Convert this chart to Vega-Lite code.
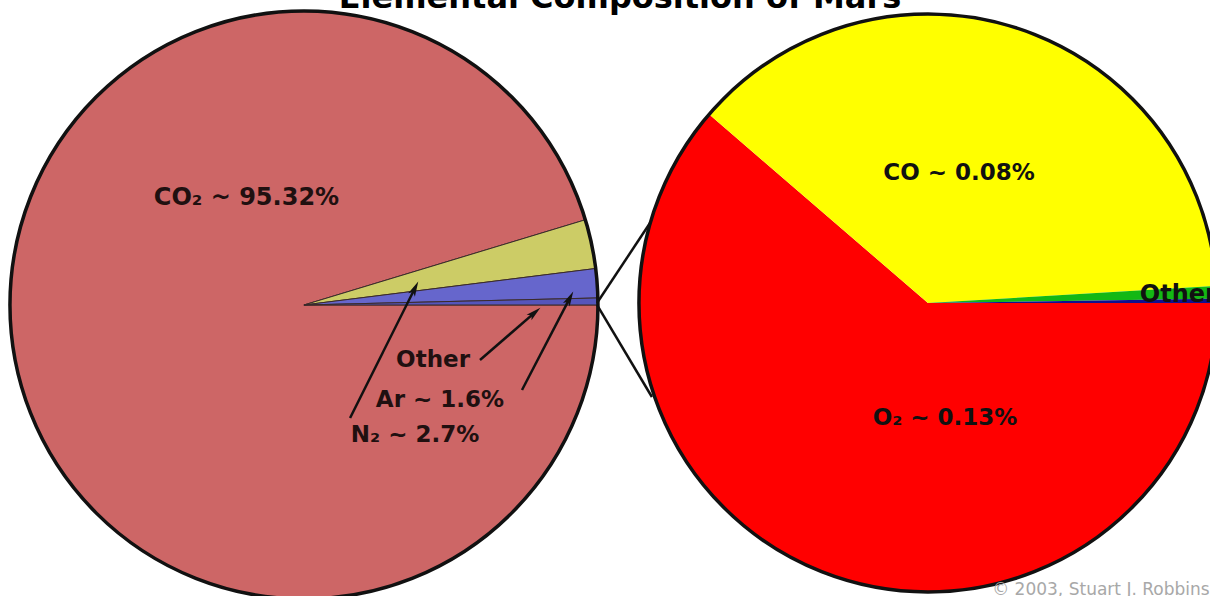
{
  "$schema": "https://vega.github.io/schema/vega-lite/v6.json",
  "width": 1210,
  "height": 596,
  "autosize": {"type": "none"},
  "padding": 0,
  "background": "white",
  "config": {"view": {"stroke": null}},
  "data": {"values": [{}]},
  "datasets": {
    "atmosphere": [
      {"gas": "CO₂", "percent": 95.32},
      {"gas": "N₂", "percent": 2.7},
      {"gas": "Ar", "percent": 1.6},
      {"gas": "Other", "percent": 0.38}
    ],
    "trace": [
      {"gas": "O₂", "percent": 0.13},
      {"gas": "CO", "percent": 0.08},
      {"gas": "Other A", "percent": 0.0015},
      {"gas": "Other B", "percent": 0.0005}
    ]
  },
  "resolve": {"scale": {"theta": "independent", "color": "independent"}},
  "layer": [
    {
      "data": {"name": "atmosphere"},
      "mark": {"type": "arc", "outerRadius": 294, "stroke": "#3a2a2a", "strokeWidth": 1},
      "encoding": {
        "x": {"datum": 25.12, "type": "quantitative", "scale": {"domain": [0, 100], "nice": false, "zero": false}, "axis": null},
        "y": {"datum": 51.17, "type": "quantitative", "scale": {"domain": [0, 100], "nice": false, "zero": false, "reverse": true}, "axis": null},
        "theta": {"field": "percent", "type": "quantitative", "stack": true, "scale": {"range": [1.5708, 7.854]}},
        "order": {"field": "percent", "sort": "descending"},
        "color": {"field": "gas", "type": "nominal", "legend": null,
          "scale": {"domain": ["CO₂", "N₂", "Ar", "Other"], "range": ["#CD6666", "#CCCC66", "#6666CC", "#5555BB"]}}
      }
    },
    {
      "data": {"name": "trace"},
      "mark": {"type": "arc", "outerRadius": 289},
      "encoding": {
        "x": {"datum": 76.69, "type": "quantitative", "scale": {"domain": [0, 100], "nice": false, "zero": false}, "axis": null},
        "y": {"datum": 50.84, "type": "quantitative", "scale": {"domain": [0, 100], "nice": false, "zero": false, "reverse": true}, "axis": null},
        "theta": {"field": "percent", "type": "quantitative", "stack": true, "scale": {"range": [1.5708, 7.854]}},
        "order": {"field": "percent", "sort": "descending"},
        "color": {"field": "gas", "type": "nominal", "legend": null,
          "scale": {"domain": ["O₂", "CO", "Other A", "Other B"], "range": ["#FF0000", "#FFFF00", "#14B814", "#101090"]}}
      }
    },
    {
      "mark": {"type": "arc", "theta": 0, "theta2": 6.2832, "outerRadius": 294, "fillOpacity": 0, "stroke": "#111111", "strokeWidth": 3.5},
      "encoding": {
        "x": {"datum": 25.12, "type": "quantitative", "scale": {"domain": [0, 100], "nice": false, "zero": false}, "axis": null},
        "y": {"datum": 51.17, "type": "quantitative", "scale": {"domain": [0, 100], "nice": false, "zero": false, "reverse": true}, "axis": null}
      }
    },
    {
      "mark": {"type": "arc", "theta": 0, "theta2": 6.2832, "outerRadius": 289, "fillOpacity": 0, "stroke": "#111111", "strokeWidth": 3.5},
      "encoding": {
        "x": {"datum": 76.69, "type": "quantitative", "scale": {"domain": [0, 100], "nice": false, "zero": false}, "axis": null},
        "y": {"datum": 50.84, "type": "quantitative", "scale": {"domain": [0, 100], "nice": false, "zero": false, "reverse": true}, "axis": null}
      }
    },
    {
      "mark": {"type": "rule", "color": "#111111", "strokeWidth": 2.5},
      "encoding": {
        "x": {"datum": 49.34, "type": "quantitative", "scale": {"domain": [0, 100], "nice": false, "zero": false}, "axis": null},
        "y": {"datum": 50.84, "type": "quantitative", "scale": {"domain": [0, 100], "nice": false, "zero": false, "reverse": true}, "axis": null},
        "x2": {"datum": 53.72},
        "y2": {"datum": 37.42}
      }
    },
    {
      "mark": {"type": "rule", "color": "#111111", "strokeWidth": 2.5},
      "encoding": {
        "x": {"datum": 49.34, "type": "quantitative", "scale": {"domain": [0, 100], "nice": false, "zero": false}, "axis": null},
        "y": {"datum": 51.17, "type": "quantitative", "scale": {"domain": [0, 100], "nice": false, "zero": false, "reverse": true}, "axis": null},
        "x2": {"datum": 53.88},
        "y2": {"datum": 66.61}
      }
    },
    {
      "mark": {"type": "rule", "color": "#111111", "strokeWidth": 2.5},
      "encoding": {
        "x": {"datum": 28.93, "type": "quantitative", "scale": {"domain": [0, 100], "nice": false, "zero": false}, "axis": null},
        "y": {"datum": 70.13, "type": "quantitative", "scale": {"domain": [0, 100], "nice": false, "zero": false, "reverse": true}, "axis": null},
        "x2": {"datum": 34.29},
        "y2": {"datum": 48.37}
      }
    },
    {
      "mark": {"type": "rule", "color": "#111111", "strokeWidth": 2.5},
      "encoding": {
        "x": {"datum": 39.67, "type": "quantitative", "scale": {"domain": [0, 100], "nice": false, "zero": false}, "axis": null},
        "y": {"datum": 60.4, "type": "quantitative", "scale": {"domain": [0, 100], "nice": false, "zero": false, "reverse": true}, "axis": null},
        "x2": {"datum": 44.19},
        "y2": {"datum": 52.45}
      }
    },
    {
      "mark": {"type": "rule", "color": "#111111", "strokeWidth": 2.5},
      "encoding": {
        "x": {"datum": 43.14, "type": "quantitative", "scale": {"domain": [0, 100], "nice": false, "zero": false}, "axis": null},
        "y": {"datum": 65.44, "type": "quantitative", "scale": {"domain": [0, 100], "nice": false, "zero": false, "reverse": true}, "axis": null},
        "x2": {"datum": 47.09},
        "y2": {"datum": 50.03}
      }
    },
    {
      "mark": {"type": "point", "shape": "M0,-1L0.5,1L0,0.55L-0.5,1Z", "filled": true, "color": "#111111", "opacity": 1, "size": 225, "angle": 26.6},
      "encoding": {
        "x": {"datum": 34.29, "type": "quantitative", "scale": {"domain": [0, 100], "nice": false, "zero": false}, "axis": null},
        "y": {"datum": 48.37, "type": "quantitative", "scale": {"domain": [0, 100], "nice": false, "zero": false, "reverse": true}, "axis": null}
      }
    },
    {
      "mark": {"type": "point", "shape": "M0,-1L0.5,1L0,0.55L-0.5,1Z", "filled": true, "color": "#111111", "opacity": 1, "size": 225, "angle": 49.1},
      "encoding": {
        "x": {"datum": 44.19, "type": "quantitative", "scale": {"domain": [0, 100], "nice": false, "zero": false}, "axis": null},
        "y": {"datum": 52.45, "type": "quantitative", "scale": {"domain": [0, 100], "nice": false, "zero": false, "reverse": true}, "axis": null}
      }
    },
    {
      "mark": {"type": "point", "shape": "M0,-1L0.5,1L0,0.55L-0.5,1Z", "filled": true, "color": "#111111", "opacity": 1, "size": 225, "angle": 27.5},
      "encoding": {
        "x": {"datum": 47.09, "type": "quantitative", "scale": {"domain": [0, 100], "nice": false, "zero": false}, "axis": null},
        "y": {"datum": 50.03, "type": "quantitative", "scale": {"domain": [0, 100], "nice": false, "zero": false, "reverse": true}, "axis": null}
      }
    },
    {
      "mark": {"type": "text", "font": "DejaVu Sans", "fontWeight": "bold", "fontSize": 32, "align": "center", "baseline": "alphabetic", "color": "#000000"},
      "encoding": {
        "x": {"datum": 51.24, "type": "quantitative", "scale": {"domain": [0, 100], "nice": false, "zero": false}, "axis": null},
        "y": {"datum": 1.4, "type": "quantitative", "scale": {"domain": [0, 100], "nice": false, "zero": false, "reverse": true}, "axis": null},
        "text": {"value": "Elemental Composition of Mars"}
      }
    },
    {
      "mark": {"type": "text", "font": "DejaVu Sans", "fontWeight": "bold", "fontSize": 24, "align": "center", "baseline": "alphabetic", "color": "#201010"},
      "encoding": {
        "x": {"datum": 20.37, "type": "quantitative", "scale": {"domain": [0, 100], "nice": false, "zero": false}, "axis": null},
        "y": {"datum": 34.4, "type": "quantitative", "scale": {"domain": [0, 100], "nice": false, "zero": false, "reverse": true}, "axis": null},
        "text": {"value": "CO₂ ~ 95.32%"}
      }
    },
    {
      "mark": {"type": "text", "font": "DejaVu Sans", "fontWeight": "bold", "fontSize": 23, "align": "center", "baseline": "alphabetic", "color": "#201010"},
      "encoding": {
        "x": {"datum": 35.79, "type": "quantitative", "scale": {"domain": [0, 100], "nice": false, "zero": false}, "axis": null},
        "y": {"datum": 61.58, "type": "quantitative", "scale": {"domain": [0, 100], "nice": false, "zero": false, "reverse": true}, "axis": null},
        "text": {"value": "Other"}
      }
    },
    {
      "mark": {"type": "text", "font": "DejaVu Sans", "fontWeight": "bold", "fontSize": 23, "align": "center", "baseline": "alphabetic", "color": "#201010"},
      "encoding": {
        "x": {"datum": 36.36, "type": "quantitative", "scale": {"domain": [0, 100], "nice": false, "zero": false}, "axis": null},
        "y": {"datum": 68.29, "type": "quantitative", "scale": {"domain": [0, 100], "nice": false, "zero": false, "reverse": true}, "axis": null},
        "text": {"value": "Ar ~ 1.6%"}
      }
    },
    {
      "mark": {"type": "text", "font": "DejaVu Sans", "fontWeight": "bold", "fontSize": 23, "align": "center", "baseline": "alphabetic", "color": "#201010"},
      "encoding": {
        "x": {"datum": 34.3, "type": "quantitative", "scale": {"domain": [0, 100], "nice": false, "zero": false}, "axis": null},
        "y": {"datum": 74.16, "type": "quantitative", "scale": {"domain": [0, 100], "nice": false, "zero": false, "reverse": true}, "axis": null},
        "text": {"value": "N₂ ~ 2.7%"}
      }
    },
    {
      "mark": {"type": "text", "font": "DejaVu Sans", "fontWeight": "bold", "fontSize": 23, "align": "center", "baseline": "alphabetic", "color": "#111111"},
      "encoding": {
        "x": {"datum": 79.26, "type": "quantitative", "scale": {"domain": [0, 100], "nice": false, "zero": false}, "axis": null},
        "y": {"datum": 30.2, "type": "quantitative", "scale": {"domain": [0, 100], "nice": false, "zero": false, "reverse": true}, "axis": null},
        "text": {"value": "CO ~ 0.08%"}
      }
    },
    {
      "mark": {"type": "text", "font": "DejaVu Sans", "fontWeight": "bold", "fontSize": 23, "align": "center", "baseline": "alphabetic", "color": "#111111"},
      "encoding": {
        "x": {"datum": 78.1, "type": "quantitative", "scale": {"domain": [0, 100], "nice": false, "zero": false}, "axis": null},
        "y": {"datum": 71.31, "type": "quantitative", "scale": {"domain": [0, 100], "nice": false, "zero": false, "reverse": true}, "axis": null},
        "text": {"value": "O₂ ~ 0.13%"}
      }
    },
    {
      "mark": {"type": "text", "font": "DejaVu Sans", "fontWeight": "bold", "fontSize": 24, "align": "left", "baseline": "alphabetic", "color": "#111111"},
      "encoding": {
        "x": {"datum": 94.2, "type": "quantitative", "scale": {"domain": [0, 100], "nice": false, "zero": false}, "axis": null},
        "y": {"datum": 50.67, "type": "quantitative", "scale": {"domain": [0, 100], "nice": false, "zero": false, "reverse": true}, "axis": null},
        "text": {"value": "Other"}
      }
    },
    {
      "mark": {"type": "text", "font": "DejaVu Sans", "fontSize": 17, "align": "left", "baseline": "alphabetic", "color": "#a8a8a8"},
      "encoding": {
        "x": {"datum": 82.0, "type": "quantitative", "scale": {"domain": [0, 100], "nice": false, "zero": false}, "axis": null},
        "y": {"datum": 99.8, "type": "quantitative", "scale": {"domain": [0, 100], "nice": false, "zero": false, "reverse": true}, "axis": null},
        "text": {"value": "© 2003, Stuart J. Robbins"}
      }
    }
  ]
}
